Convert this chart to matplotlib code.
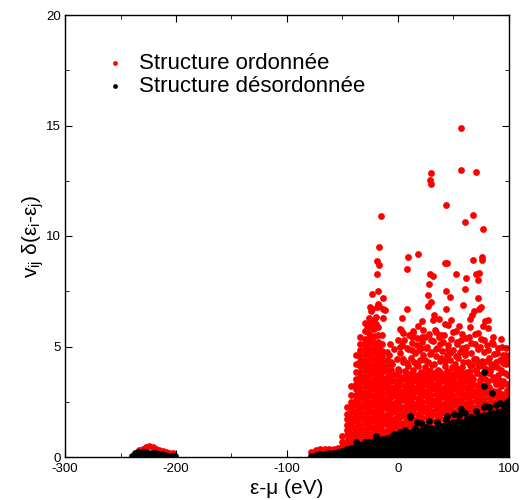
import matplotlib
matplotlib.use('Agg')
import matplotlib.pyplot as plt
from matplotlib.ticker import MultipleLocator

plt.rcParams['font.family'] = ['Liberation Sans', 'DejaVu Sans']
plt.rcParams['mathtext.default'] = 'regular'
plt.rcParams['axes.unicode_minus'] = False

# ---- low-energy cluster near -230 eV ----
low_black_cols = [-240, -237, -234, -231, -228, -225, -222, -219, -216, -213, -210, -207, -204, -201]
low_black_vals = [[0.06], [0.06, 0.2], [0.06, 0.22], [0.06, 0.24], [0.06, 0.22], [0.06, 0.2],
                  [0.06, 0.18], [0.06, 0.16], [0.06, 0.14], [0.06, 0.12], [0.06, 0.1], [0.06],
                  [0.05], [0.05]]
low_red_cols = [-233, -230, -227, -224, -221, -218, -215, -212, -209, -206, -203]
low_red_vals = [[0.3], [0.38], [0.46], [0.52], [0.46], [0.38], [0.32], [0.26], [0.22], [0.2], [0.16]]

# ---- dense band, black (désordonnée) ----
black_cols = [-78, -74, -70, -66, -62, -58, -54, -50, -46, -42, -38, -34, -30, -26, -22, -18,
              -14, -10, -6, -2, 2, 6, 10, 14, 18, 22, 26, 30, 34, 38, 42, 46, 50, 54, 58, 62,
              66, 70, 74, 78, 82, 86, 90, 94, 98, 100]
black_vals = [
    [0.04], [0.08], [0.04, 0.12], [0.08, 0.14], [0.04, 0.18], [0.1, 0.2], [0.04, 0.22],
    [0.12, 0.28], [0.04, 0.26, 0.34], [0.12, 0.34, 0.4], [0.04, 0.26, 0.48],
    [0.12, 0.34, 0.56], [0.04, 0.26, 0.48, 0.64], [0.12, 0.34, 0.56, 0.68],
    [0.04, 0.26, 0.48, 0.7, 0.74], [0.12, 0.34, 0.56, 0.74], [0.04, 0.26, 0.48, 0.7, 0.8],
    [0.12, 0.34, 0.56, 0.78, 0.86], [0.04, 0.26, 0.48, 0.7, 0.9],
    [0.12, 0.34, 0.56, 0.78, 0.94], [0.04, 0.26, 0.48, 0.7, 0.92, 0.98],
    [0.12, 0.34, 0.56, 0.78, 1.0], [0.04, 0.26, 0.48, 0.7, 0.92, 1.1],
    [0.12, 0.34, 0.56, 0.78, 1.0, 1.18], [0.04, 0.26, 0.48, 0.7, 0.92, 1.14],
    [0.12, 0.34, 0.56, 0.78, 1.0, 1.2], [0.04, 0.26, 0.48, 0.7, 0.92, 1.14, 1.24],
    [0.12, 0.34, 0.56, 0.78, 1.0, 1.22, 1.3], [0.04, 0.26, 0.48, 0.7, 0.92, 1.14, 1.32],
    [0.12, 0.34, 0.56, 0.78, 1.0, 1.22, 1.4], [0.04, 0.26, 0.48, 0.7, 0.92, 1.14, 1.36, 1.45],
    [0.12, 0.34, 0.56, 0.78, 1.0, 1.22, 1.44, 1.5],
    [0.04, 0.26, 0.48, 0.7, 0.92, 1.14, 1.36, 1.58],
    [0.12, 0.34, 0.56, 0.78, 1.0, 1.22, 1.44, 1.64],
    [0.04, 0.26, 0.48, 0.7, 0.92, 1.14, 1.36, 1.58],
    [0.12, 0.34, 0.56, 0.78, 1.0, 1.22, 1.44, 1.66, 1.7],
    [0.04, 0.26, 0.48, 0.7, 0.92, 1.14, 1.36, 1.58, 1.75],
    [0.12, 0.34, 0.56, 0.78, 1.0, 1.22, 1.44, 1.66, 1.76],
    [0.04, 0.26, 0.48, 0.7, 0.92, 1.14, 1.36, 1.58, 1.8, 1.85],
    [0.12, 0.34, 0.56, 0.78, 1.0, 1.22, 1.44, 1.66, 1.88],
    [0.04, 0.26, 0.48, 0.7, 0.92, 1.14, 1.36, 1.58, 1.8, 1.95],
    [0.12, 0.34, 0.56, 0.78, 1.0, 1.22, 1.44, 1.66, 1.88, 2.0],
    [0.04, 0.26, 0.48, 0.7, 0.92, 1.14, 1.36, 1.58, 1.8, 2.02, 2.05],
    [0.12, 0.34, 0.56, 0.78, 1.0, 1.22, 1.44, 1.66, 1.88, 2.1],
    [0.04, 0.26, 0.48, 0.7, 0.92, 1.14, 1.36, 1.58, 1.8, 2.02, 2.2],
    [0.12, 0.34, 0.56, 0.78, 1.0, 1.22, 1.44, 1.66, 1.88, 2.1],
]
black_extra_x = [11.1, 16.8, 20.7, 50.2, 55.2, 78.6, 82.0, 97.0, 77.7, 77.7, 84.4, 56.8, 65.5,
                 77.7, 82.2, 95.5, 92.8, 10.8, 25.2, 15.3, 43.2, 41.4, -3.6, -29.7, 28.0, 35.0,
                 44.0, 60.0, 70.0, 88.0, 92.0, 99.0, -38.0, -20.0, 2.0, 6.0]
black_extra_y = [1.87, 1.60, 1.54, 1.96, 1.91, 2.32, 2.28, 2.43, 3.85, 3.21, 2.91, 2.16, 1.80,
                 2.25, 2.25, 2.28, 1.93, 1.82, 1.36, 1.30, 1.72, 1.34, 1.03, 0.69, 1.62, 1.6,
                 1.85, 2.0, 2.1, 2.35, 2.45, 2.55, 0.7, 0.95, 1.15, 1.22]

# ---- dense cloud, red (ordonnée) ----
red_cols = [-78, -74, -70, -66, -62, -58, -54, -50, -46, -42, -38, -34, -30, -26, -22, -18,
            -14, -10, -6, -2, 2, 6, 10, 14, 18, 22, 26, 30, 34, 38, 42, 46, 50, 54, 58, 62,
            66, 70, 74, 78, 82, 86, 90, 94, 98, 100]
red_vals = [
    [0.24], [0.3], [0.34], [0.36], [0.36], [0.34], [0.4], [0.45, 0.7, 0.95],
    [0.5, 0.74, 0.98, 1.22, 1.46, 1.7, 1.94, 2.25],
    [0.58, 0.82, 1.06, 1.3, 1.54, 1.78, 2.02, 2.26, 2.5, 2.8, 3.2],
    [0.66, 0.9, 1.14, 1.38, 1.62, 1.86, 2.1, 2.34, 2.58, 2.82, 3.06, 3.3, 3.54, 3.85, 4.2, 4.6],
    [0.72, 0.98, 1.22, 1.46, 1.7, 1.94, 2.18, 2.42, 2.66, 2.9, 3.14, 3.38, 3.62, 3.86, 4.1,
     4.34, 4.58, 4.82, 5.1, 5.45],
    [0.8, 1.04, 1.28, 1.52, 1.76, 2.0, 2.24, 2.48, 2.72, 2.96, 3.2, 3.44, 3.68, 3.92, 4.16,
     4.4, 4.64, 4.88, 5.12, 5.36, 5.7, 6.05],
    [0.82, 1.06, 1.3, 1.54, 1.78, 2.02, 2.26, 2.5, 2.74, 2.98, 3.22, 3.46, 3.7, 3.94, 4.18,
     4.42, 4.66, 4.9, 5.14, 5.38, 5.62, 5.95, 6.3],
    [0.9, 1.14, 1.38, 1.62, 1.86, 2.1, 2.34, 2.58, 2.82, 3.06, 3.3, 3.54, 3.78, 4.02, 4.26,
     4.5, 4.74, 4.98, 5.22, 5.46, 5.8, 6.2],
    [0.88, 1.12, 1.36, 1.6, 1.84, 2.08, 2.32, 2.56, 2.8, 3.04, 3.28, 3.52, 3.76, 4.0, 4.24,
     4.48, 4.72, 4.96, 5.2, 5.5, 5.9],
    [0.95, 1.19, 1.43, 1.67, 1.91, 2.15, 2.39, 2.63, 2.87, 3.11, 3.35, 3.59, 3.83, 4.07, 4.31,
     4.55, 4.8, 5.1, 5.5],
    [1.0, 1.24, 1.48, 1.72, 1.96, 2.2, 2.44, 2.68, 2.92, 3.16, 3.4, 3.64, 3.88, 4.12, 4.4, 4.75],
    [1.02, 1.26, 1.5, 1.74, 1.98, 2.22, 2.46, 2.7, 2.94, 3.18, 3.42, 3.66, 3.95, 4.3],
    [1.06, 1.3, 1.54, 1.78, 2.02, 2.26, 2.5, 2.74, 2.98, 3.22, 3.46, 3.75],
    [1.08, 1.32, 1.56, 1.8, 2.04, 2.28, 2.52, 2.76, 3.0, 3.24, 3.5],
    [1.12, 1.36, 1.6, 1.84, 2.08, 2.32, 2.56, 2.8, 3.04, 3.28, 3.55],
    [1.2, 1.44, 1.68, 1.92, 2.16, 2.4, 2.64, 2.88, 3.12, 3.36, 3.6],
    [1.26, 1.5, 1.74, 1.98, 2.22, 2.46, 2.7, 2.94, 3.18, 3.42, 3.7],
    [1.24, 1.48, 1.72, 1.96, 2.2, 2.44, 2.68, 2.92, 3.16, 3.4, 3.65],
    [1.3, 1.54, 1.78, 2.02, 2.26, 2.5, 2.74, 2.98, 3.22, 3.46, 3.7],
    [1.32, 1.56, 1.8, 2.04, 2.28, 2.52, 2.76, 3.0, 3.24, 3.48, 3.75],
    [1.38, 1.62, 1.86, 2.1, 2.34, 2.58, 2.82, 3.06, 3.3, 3.54, 3.8],
    [1.4, 1.64, 1.88, 2.12, 2.36, 2.6, 2.84, 3.08, 3.32, 3.56, 3.85],
    [1.46, 1.7, 1.94, 2.18, 2.42, 2.66, 2.9, 3.14, 3.38, 3.62, 3.85],
    [1.5, 1.74, 1.98, 2.22, 2.46, 2.7, 2.94, 3.18, 3.42, 3.7],
    [1.56, 1.8, 2.04, 2.28, 2.52, 2.76, 3.0, 3.24, 3.48, 3.75],
    [1.62, 1.86, 2.1, 2.34, 2.58, 2.82, 3.06, 3.3, 3.55],
    [1.68, 1.92, 2.16, 2.4, 2.64, 2.88, 3.12, 3.36, 3.6],
    [1.66, 1.9, 2.14, 2.38, 2.62, 2.86, 3.1, 3.34, 3.55],
    [1.74, 1.98, 2.22, 2.46, 2.7, 2.94, 3.18, 3.45],
    [1.78, 2.02, 2.26, 2.5, 2.74, 2.98, 3.22, 3.4],
    [1.8, 2.04, 2.28, 2.52, 2.76, 3.0, 3.25],
    [1.88, 2.12, 2.36, 2.6, 2.84, 3.08, 3.3],
    [1.92, 2.16, 2.4, 2.64, 2.88, 3.1],
    [1.98, 2.22, 2.46, 2.7, 2.94, 3.15],
    [2.02, 2.26, 2.5, 2.74, 2.98],
    [2.08, 2.32, 2.56, 2.8, 3.0],
    [2.14, 2.38, 2.62, 2.86],
    [2.2, 2.44, 2.68, 2.9],
    [2.26, 2.5, 2.74],
]
red_mid_x = [-8, -7, -5, -4, -3, -1, 0, 1, 2, 3, 4, 5, 7, 8, 9, 10, 11, 12, 13, 14, 15, 16, 17,
             18, 19, 20, 21, 22, 23, 24, 25, 26, 27, 28, 29, 30, 31, 32, 33, 34, 35, 36, 37, 38,
             39, 40, 41, 42, 43, 44, 45, 46, 47, 48, 49, 50, 51, 52, 53, 54, 55, 56, 57, 58, 59,
             60, 61, 62, 63, 64, 65, 66, 67, 68, 69, 70, 71, 72, 73, 74, 75, 76, 77, 78, 79, 80,
             81, 82, 83, 84, 85, 86, 87, 88, 89, 90, 91, 92, 93, 94, 95, 96, 97, 98, 99, 99.5,
             5, 14, 24, 34, 39, 52, 58, 72, 86, 93, 97, 96.5, 94.3, 2.4, 12.3, 22.8]
red_mid_y = [4.6, 5.1, 4.2, 4.9, 3.7, 4.45, 5.3, 3.9, 4.7, 3.55, 5.05, 4.3, 3.8, 4.95, 4.1, 5.5,
             3.65, 4.5, 5.15, 3.95, 4.7, 4.2, 5.4, 3.7, 4.85, 4.4, 3.85, 5.2, 4.6, 4.05, 3.6, 5.0,
             4.3, 5.55, 3.9, 4.75, 4.15, 5.25, 3.65, 4.55, 4.95, 3.95, 5.45, 4.35, 3.75, 4.8, 5.2,
             4.1, 3.6, 4.6, 5.05, 3.85, 4.4, 5.35, 3.7, 4.85, 4.2, 3.9, 5.1, 4.5, 3.6, 4.75, 5.3,
             4.05, 3.8, 4.6, 5.0, 3.65, 4.3, 5.45, 3.9, 4.7, 4.15, 3.55, 5.1, 4.45, 3.8, 4.9, 4.1,
             3.5, 5.35, 4.35, 3.7, 4.75, 4.0, 5.05, 3.45, 4.5, 3.9, 4.2, 5.2, 3.6, 4.65, 3.3, 4.05,
             4.95, 3.5, 4.4, 3.2, 3.85, 4.6, 3.35, 4.2, 3.05, 3.7, 4.45,
             5.6, 5.7, 5.45, 5.65, 5.5, 5.7, 5.55, 5.6, 5.45, 5.35, 4.95, 4.48, 4.24, 5.75, 5.42,
             5.75]
red_mid2_x = [0.5, 2.5, 4.5, 6.5, 8.5, 10.5, 12.5, 14.5, 16.5, 18.5, 20.5, 22.5, 24.5, 26.5,
              28.5, 30.5, 32.5, 34.5, 36.5, 38.5, 40.5, 42.5, 44.5, 46.5, 48.5, 50.5, 52.5, 54.5,
              56.5, 58.5, 60.5, 62.5, 64.5, 66.5, 68.5, 70.5, 72.5, 74.5, 76.5, 78.5, 80.5, 82.5,
              84.5, 86.5, 88.5, 90.5, 92.5, 94.5, 96.5, 98.5,
              1.5, 5.5, 9.5, 13.5, 17.5, 21.5, 25.5, 29.5, 33.5, 37.5, 41.5, 45.5, 49.5, 53.5,
              57.5, 61.5, 65.5, 69.5, 73.5, 77.5, 81.5, 85.5, 89.5, 93.5, 97.5]
red_mid2_y = [4.0, 3.6, 4.45, 3.9, 4.25, 3.75, 4.85, 4.3, 3.55, 4.1, 4.95, 3.7, 4.4, 3.95,
              4.65, 3.6, 4.2, 4.9, 3.8, 4.5, 3.65, 4.35, 3.9, 4.7, 4.05, 3.75, 4.55, 4.0, 3.7,
              4.3, 4.8, 3.85, 4.15, 3.6, 4.45, 3.95, 4.25, 3.7, 4.1, 3.55, 4.35, 3.8, 4.05, 3.5,
              4.3, 3.7, 3.95, 3.45, 3.8, 3.3,
              5.0, 5.3, 4.9, 5.6, 5.05, 5.45, 4.95, 5.3, 5.75, 5.1, 5.5, 4.9, 5.65, 5.2, 4.95,
              5.4, 5.15, 5.55, 5.0, 5.3, 4.85, 5.1, 4.7, 5.0, 4.6]
red_top_x = [56.5, 29.5, 28.8, 29.7, 56.5, 70.0, 43.5, -15.6, 67.3, 60.1, 76.8, -16.8, 9.3, 18.3,
             -18.6, -17.1, 8.4, -19.2, 42.6, 43.9, 67.3, 76.0, 76.0, 29.1, 31.3, 52.3, 61.5, 70.3,
             73.2, 72.3, 28.2, -18.4, -23.2, -13.2, 26.8, 43.2, 46.8, 60.6, 72.1, 29.7, 26.8,
             58.8, 75.0, 73.2, 8.4, 68.5, 43.0, 32.2, 66.7, 3.3, 31.8, 37.2, 47.7, 65.1, 78.1,
             81.4, 21.9, 18.3, 42.6, 45.3, 55.2, 64.9, 76.6, 81.4, -17.7, -25.2, -23.7, -24.6,
             -19.2, -17.1, -13.8, -11.7, -19.8, -13.2, -24.1, -19.8, -25.9, -22.8, -27.7, 1.8]
red_top_y = [14.87, 12.85, 12.55, 12.34, 12.99, 12.88, 11.39, 10.92, 10.94, 10.65, 10.30, 9.49,
             9.04, 9.19, 8.86, 8.67, 8.49, 8.28, 8.79, 8.79, 8.90, 9.04, 8.90, 8.27, 8.18, 8.28,
             8.09, 8.29, 8.33, 8.01, 7.84, 7.50, 7.38, 7.19, 7.34, 7.52, 7.25, 7.59, 7.19, 7.00,
             6.85, 6.86, 6.77, 6.71, 6.70, 6.62, 6.70, 6.44, 6.41, 6.29, 6.20, 6.26, 6.21, 6.23,
             6.17, 6.20, 6.14, 5.93, 6.03, 5.96, 5.91, 5.90, 5.93, 5.82, 6.94, 6.77, 6.68, 6.59,
             6.80, 6.85, 6.68, 6.64, 6.32, 6.28, 6.14, 6.03, 6.02, 5.85, 5.85, 5.78]


def expand(cols, vals):
    xs, ys = [], []
    for c, v in zip(cols, vals):
        xs.extend([c] * len(v))
        ys.extend(v)
    return xs, ys


rx1, ry1 = expand(low_red_cols, low_red_vals)
rx2, ry2 = expand(red_cols, red_vals)
red_x = rx1 + rx2 + red_mid_x + red_mid2_x + red_top_x
red_y = ry1 + ry2 + red_mid_y + red_mid2_y + red_top_y

bx1, by1 = expand(low_black_cols, low_black_vals)
bx2, by2 = expand(black_cols, black_vals)
black_x = bx1 + bx2 + black_extra_x
black_y = by1 + by2 + black_extra_y

fig = plt.figure(figsize=(5.21, 5.0), dpi=100)
ax = fig.add_axes([0.1248, 0.086, 0.852, 0.884])

ax.scatter(red_x, red_y, s=24, c='#ff0000', linewidths=0, label='Structure ordonnée')
ax.scatter(black_x, black_y, s=24, c='black', linewidths=0, label='Structure désordonnée')

ax.set_xlim(-300, 100)
ax.set_ylim(0, 20)
ax.xaxis.set_major_locator(MultipleLocator(100))
ax.xaxis.set_minor_locator(MultipleLocator(50))
ax.yaxis.set_major_locator(MultipleLocator(5))
ax.yaxis.set_minor_locator(MultipleLocator(2.5))
ax.tick_params(which='both', direction='in', top=True, right=True, labelsize=9.5)
ax.tick_params(axis='x', which='both', pad=4.5)
ax.tick_params(axis='y', which='both', pad=3)
ax.tick_params(which='major', length=5)
ax.tick_params(which='minor', length=3)
for sp in ax.spines.values():
    sp.set_linewidth(1.0)

ax.set_xlabel('ε-μ (eV)', fontsize=15, labelpad=3)
ax.set_ylabel('v$_{ij}$ δ(ε$_i$-ε$_j$)', fontsize=15, labelpad=0)

ax.legend(loc='upper left', bbox_to_anchor=(0.088, 0.915), frameon=False, fontsize=16,
          handletextpad=0.55, markerscale=0.7, labelspacing=0.1, handlelength=1.0,
          borderaxespad=0, borderpad=0)

fig.savefig('out.png', dpi=100)
